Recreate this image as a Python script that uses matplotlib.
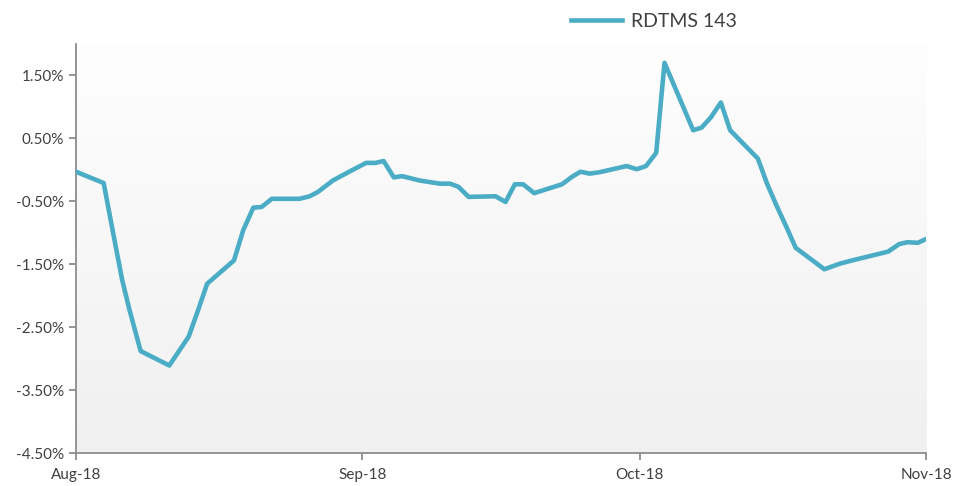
import numpy as np
import matplotlib
matplotlib.use("Agg")
import matplotlib.pyplot as plt
from matplotlib.colors import LinearSegmentedColormap

# days since 1 Aug 2018
days = [0, 3.0, 3.9, 5.0, 5.8, 7.0, 10.1, 12.2, 13.1, 14.2, 17.1, 18.1, 19.2, 20.1,
        21.2, 24.2, 25.3, 26.2, 27.8, 29.7, 31.4, 32.4, 33.3, 34.4, 35.3, 37.2,
        39.4, 40.5, 41.4, 42.5, 45.4, 46.5, 47.5, 48.4, 49.6, 52.6, 53.7, 54.6,
        55.6, 56.6, 59.6, 60.7, 61.7, 62.8, 63.7, 66.8, 67.7, 68.7, 69.8, 70.8,
        73.8, 74.8, 75.8, 76.9, 77.9, 81.0, 82.7, 84.0, 87.9, 89.1, 90.0, 91.1, 92.0]
# return in percent
values = [-0.03, -0.21, -0.91, -1.75, -2.23, -2.88, -3.11, -2.65, -2.28, -1.81,
          -1.44, -0.96, -0.60, -0.59, -0.46, -0.46, -0.42, -0.35, -0.17, -0.02,
          0.11, 0.11, 0.14, -0.12, -0.10, -0.17, -0.22, -0.22, -0.27, -0.43,
          -0.42, -0.51, -0.23, -0.23, -0.37, -0.23, -0.11, -0.03, -0.06, -0.04,
          0.06, 0.01, 0.06, 0.27, 1.70, 0.63, 0.67, 0.83, 1.07, 0.63, 0.18,
          -0.22, -0.56, -0.91, -1.24, -1.58, -1.49, -1.44, -1.30, -1.18, -1.15,
          -1.16, -1.10]

month_pos = [0, 31, 61, 92]
month_labels = ["Aug-18", "Sep-18", "Oct-18", "Nov-18"]
y_ticks = [-4.5, -3.5, -2.5, -1.5, -0.5, 0.5, 1.5]

plt.rcParams['font.family'] = ['Lato', 'DejaVu Sans']

fig = plt.figure(figsize=(9.69, 4.86), dpi=100)
ax = fig.add_axes([0.0784, 0.0679, 0.8772, 0.8416])

# soft grey gradient behind the plot, darker at the bottom
grad = np.linspace(0, 1, 256).reshape(-1, 1)
cmap = LinearSegmentedColormap.from_list("bg", ["#f0f0f0", "#fefefe"])
ax.imshow(grad, extent=[0, 92, -4.5, 2.0], origin="lower", aspect="auto",
          cmap=cmap, zorder=0)

ax.plot(days, values, color="#4BACC6", lw=3.3, label="RDTMS 143", zorder=3)

ax.set_xlim(0, 92)
ax.set_ylim(-4.5, 2.0)
ax.set_xticks(month_pos)
ax.set_xticklabels(month_labels)
ax.set_yticks(y_ticks)
ax.set_yticklabels([f"{v:.2f}%" for v in y_ticks])

for s in ["top", "right"]:
    ax.spines[s].set_visible(False)
for s in ["left", "bottom"]:
    ax.spines[s].set_color("#8c8c8c")
    ax.spines[s].set_linewidth(1.3)
ax.tick_params(colors="#8c8c8c", width=1.3, length=5, labelsize=11,
               labelcolor="#404040")
ax.tick_params(axis="x", pad=6)

fig.legend(loc="upper center", bbox_to_anchor=(0.675, 1.01), frameon=False,
           fontsize=14, handlelength=2.6, handletextpad=0.5,
           labelcolor="#404040")

fig.savefig("out.png", dpi=100)
